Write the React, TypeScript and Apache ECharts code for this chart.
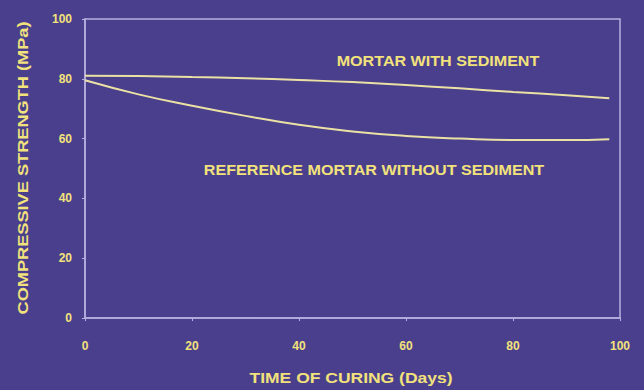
import React, { useEffect, useRef } from "react";
import * as echarts from "echarts";

const days = [0, 10, 20, 30, 40, 50, 60, 70, 80, 90, 98];
const withSediment = [81, 80.9, 80.6, 80.2, 79.6, 78.9, 77.9, 76.8, 75.6, 74.5, 73.5];
const reference = [79.5, 74.8, 71, 67.6, 64.6, 62.4, 60.9, 60, 59.5, 59.5, 59.8];
const xTicks = [0, 20, 40, 60, 80, 100];
const yTicks = [0, 20, 40, 60, 80, 100];

const BG = "#4a3f8d";
const AXIS = "#b8b0e0";
const TEXT = "#f2e27c";
const LINE = "#ebe1a4";
const FONT = "'Liberation Sans', Arial, sans-serif";

export default function App() {
  const ref = useRef<HTMLDivElement>(null);
  useEffect(() => {
    document.body.style.margin = "0";
    const chart = echarts.init(ref.current!, undefined, { renderer: "svg" });
    const toPairs = (ys: number[]) => days.map((d, i) => [d, ys[i]]);
    const label = (text: string, x: number, y: number, size: number, sx: number, rotation = 0) => ({
      type: "text",
      x,
      y,
      rotation,
      scaleX: sx,
      style: {
        text,
        fill: TEXT,
        font: `bold ${size}px ${FONT}`,
        align: "center",
        verticalAlign: "middle",
      },
    });
    chart.setOption({
      animation: false,
      backgroundColor: BG,
      grid: {
        left: 85,
        right: 24,
        top: 19,
        bottom: 72,
        show: true,
        borderColor: AXIS,
        borderWidth: 1.5,
        backgroundColor: "transparent",
      },
      xAxis: {
        type: "value",
        min: xTicks[0],
        max: xTicks[xTicks.length - 1],
        interval: 20,
        axisLine: { lineStyle: { color: AXIS, width: 1.5 } },
        axisTick: { lineStyle: { color: AXIS }, length: 3 },
        axisLabel: { color: TEXT, fontFamily: FONT, fontWeight: "bold", fontSize: 12, margin: 22 },
        splitLine: { show: false },
      },
      yAxis: {
        type: "value",
        min: yTicks[0],
        max: yTicks[yTicks.length - 1],
        interval: 20,
        axisLine: { lineStyle: { color: AXIS, width: 1.5 } },
        axisTick: { lineStyle: { color: AXIS }, length: 3 },
        axisLabel: { color: TEXT, fontFamily: FONT, fontWeight: "bold", fontSize: 12, margin: 13 },
        splitLine: { show: false },
      },
      series: [
        {
          type: "line",
          name: "MORTAR WITH SEDIMENT",
          data: toPairs(withSediment),
          smooth: true,
          showSymbol: false,
          lineStyle: { color: LINE, width: 2 },
        },
        {
          type: "line",
          name: "REFERENCE MORTAR WITHOUT SEDIMENT",
          data: toPairs(reference),
          smooth: true,
          showSymbol: false,
          lineStyle: { color: LINE, width: 2 },
        },
      ],
      graphic: [
        label("MORTAR WITH SEDIMENT", 438, 61, 14, 1.15),
        label("REFERENCE MORTAR WITHOUT SEDIMENT", 374, 170, 14, 1.15),
        label("TIME OF CURING (Days)", 351, 378, 14, 1.25),
        label("COMPRESSIVE STRENGTH (MPa)", 23, 168, 14, 1.3, Math.PI / 2),
      ],
    });
    return () => chart.dispose();
  }, []);
  return <div ref={ref} style={{ width: 644, height: 390 }} />;
}
